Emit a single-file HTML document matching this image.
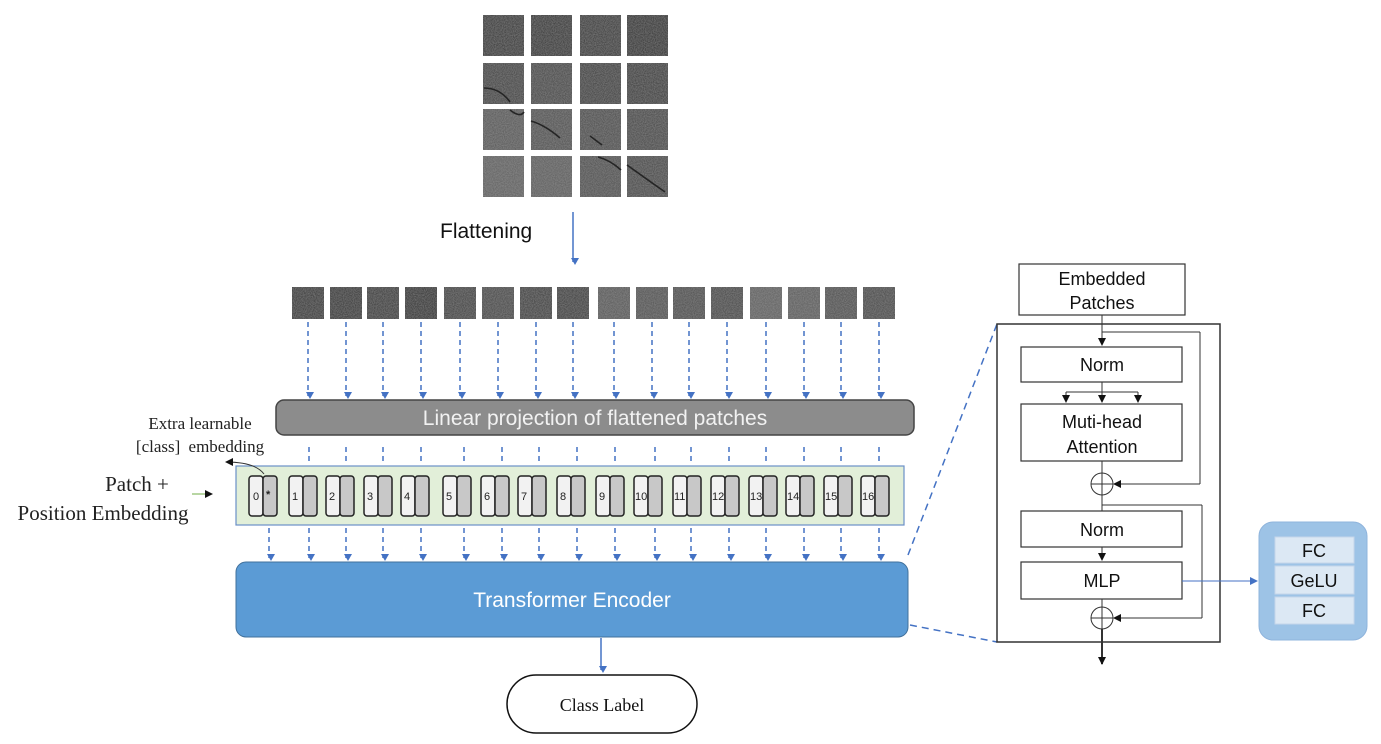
<!DOCTYPE html>
<html><head><meta charset="utf-8"><style>
html,body{margin:0;padding:0;background:#fff;}
svg{display:block;}
.s{font-family:"Liberation Sans",sans-serif;}
.r{font-family:"Liberation Serif",serif;}
</style></head><body>
<svg width="1381" height="744" viewBox="0 0 1381 744" xmlns="http://www.w3.org/2000/svg">
<defs>
<filter id="n" x="0" y="0" width="100%" height="100%">
<feTurbulence type="fractalNoise" baseFrequency="0.9" numOctaves="2" seed="3"/>
<feColorMatrix type="matrix" values="0 0 0 0 1  0 0 0 0 1  0 0 0 0 1  0 0 0 0.2 -0.06"/>
<feComposite in2="SourceGraphic" operator="in"/>
<feBlend in2="SourceGraphic" mode="screen"/>
</filter>
<marker id="ab" markerWidth="8" markerHeight="8" refX="4" refY="6" orient="auto" markerUnits="userSpaceOnUse"><path d="M0,0 L8,0 L4,7 z" fill="#4472c4" transform="rotate(-90 4 4)"/></marker>
<marker id="tri" markerWidth="8" markerHeight="8" refX="7" refY="4" orient="auto" markerUnits="userSpaceOnUse"><path d="M0,0 L8,4 L0,8 z" fill="#4472c4"/></marker>
<marker id="tk" markerWidth="8" markerHeight="8" refX="7" refY="4" orient="auto" markerUnits="userSpaceOnUse"><path d="M0,0 L8,4 L0,8 z" fill="#111"/></marker>
<g id="tok"><rect x="0" y="0" width="14" height="40" rx="3" fill="#f2f2f2" stroke="#222" stroke-width="1.5"/><rect x="14" y="0" width="14" height="40" rx="3" fill="#c8c8c8" stroke="#222" stroke-width="1.5"/></g>
</defs>

<g filter="url(#n)">
<rect x="483" y="15" width="41" height="41" fill="#4a4a4a"/><rect x="531" y="15" width="41" height="41" fill="#484848"/><rect x="580" y="15" width="41" height="41" fill="#4c4c4c"/><rect x="627" y="15" width="41" height="41" fill="#454545"/>
<rect x="483" y="63" width="41" height="41" fill="#525252"/><rect x="531" y="63" width="41" height="41" fill="#565656"/><rect x="580" y="63" width="41" height="41" fill="#505050"/><rect x="627" y="63" width="41" height="41" fill="#4e4e4e"/>
<rect x="483" y="109" width="41" height="41" fill="#646464"/><rect x="531" y="109" width="41" height="41" fill="#5e5e5e"/><rect x="580" y="109" width="41" height="41" fill="#5a5a5a"/><rect x="627" y="109" width="41" height="41" fill="#565656"/>
<rect x="483" y="156" width="41" height="41" fill="#6a6a6a"/><rect x="531" y="156" width="41" height="41" fill="#676767"/><rect x="580" y="156" width="41" height="41" fill="#5c5c5c"/><rect x="627" y="156" width="41" height="41" fill="#575757"/>
</g>
<g stroke="#252525" stroke-width="1.6" fill="none">
<path d="M484,88 Q500,88 510,102"/><path d="M510,110 Q520,118 524,112"/><path d="M531,121 Q545,125 560,138"/><path d="M590,136 L602,145"/><path d="M598,157 Q610,160 621,170"/><path d="M627,165 Q645,178 665,192"/>
</g>

<text x="440" y="238" class="s" font-size="21" fill="#111">Flattening</text>
<line x1="573" y1="212" x2="573" y2="262" stroke="#4472c4" stroke-width="1.5" marker-end="url(#ab)"/>

<g filter="url(#n)">
<rect x="292" y="287" width="32" height="32" fill="#4a4a4a"/><rect x="330" y="287" width="32" height="32" fill="#484848"/><rect x="367" y="287" width="32" height="32" fill="#4c4c4c"/><rect x="405" y="287" width="32" height="32" fill="#454545"/>
<rect x="444" y="287" width="32" height="32" fill="#525252"/><rect x="482" y="287" width="32" height="32" fill="#565656"/><rect x="520" y="287" width="32" height="32" fill="#505050"/><rect x="557" y="287" width="32" height="32" fill="#4e4e4e"/>
<rect x="598" y="287" width="32" height="32" fill="#646464"/><rect x="636" y="287" width="32" height="32" fill="#5e5e5e"/><rect x="673" y="287" width="32" height="32" fill="#5a5a5a"/><rect x="711" y="287" width="32" height="32" fill="#565656"/>
<rect x="750" y="287" width="32" height="32" fill="#6a6a6a"/><rect x="788" y="287" width="32" height="32" fill="#676767"/><rect x="825" y="287" width="32" height="32" fill="#5c5c5c"/><rect x="863" y="287" width="32" height="32" fill="#575757"/>
</g>

<g stroke="#4472c4" stroke-width="1.5" stroke-dasharray="5,4" fill="none" marker-end="url(#ab)">
<line x1="308" y1="322" x2="308" y2="396"/><line x1="346" y1="322" x2="346" y2="396"/><line x1="383" y1="322" x2="383" y2="396"/><line x1="421" y1="322" x2="421" y2="396"/>
<line x1="460" y1="322" x2="460" y2="396"/><line x1="498" y1="322" x2="498" y2="396"/><line x1="536" y1="322" x2="536" y2="396"/><line x1="573" y1="322" x2="573" y2="396"/>
<line x1="614" y1="322" x2="614" y2="396"/><line x1="652" y1="322" x2="652" y2="396"/><line x1="689" y1="322" x2="689" y2="396"/><line x1="727" y1="322" x2="727" y2="396"/>
<line x1="766" y1="322" x2="766" y2="396"/><line x1="804" y1="322" x2="804" y2="396"/><line x1="841" y1="322" x2="841" y2="396"/><line x1="879" y1="322" x2="879" y2="396"/>
</g>

<rect x="276" y="400" width="638" height="35" rx="8" fill="#8c8c8c" stroke="#444" stroke-width="1.5"/>
<text x="595" y="425" class="s" font-size="21" fill="#f2f2f2" text-anchor="middle">Linear projection of flattened patches</text>

<g stroke="#4472c4" stroke-width="1.5" stroke-dasharray="5,4">
<line x1="309" y1="447" x2="309" y2="465"/><line x1="346" y1="447" x2="346" y2="465"/><line x1="383" y1="447" x2="383" y2="465"/><line x1="421" y1="447" x2="421" y2="465"/>
<line x1="464" y1="447" x2="464" y2="465"/><line x1="502" y1="447" x2="502" y2="465"/><line x1="539" y1="447" x2="539" y2="465"/><line x1="577" y1="447" x2="577" y2="465"/>
<line x1="615" y1="447" x2="615" y2="465"/><line x1="655" y1="447" x2="655" y2="465"/><line x1="691" y1="447" x2="691" y2="465"/><line x1="729" y1="447" x2="729" y2="465"/>
<line x1="766" y1="447" x2="766" y2="465"/><line x1="804" y1="447" x2="804" y2="465"/><line x1="841" y1="447" x2="841" y2="465"/><line x1="879" y1="447" x2="879" y2="465"/>
</g>

<rect x="236" y="466" width="668" height="59" fill="#e2efd9" stroke="#6a8fc8" stroke-width="1.2"/>
<use href="#tok" x="249" y="476"/><use href="#tok" x="289" y="476"/><use href="#tok" x="326" y="476"/><use href="#tok" x="364" y="476"/>
<use href="#tok" x="401" y="476"/><use href="#tok" x="443" y="476"/><use href="#tok" x="481" y="476"/><use href="#tok" x="518" y="476"/>
<use href="#tok" x="557" y="476"/><use href="#tok" x="596" y="476"/><use href="#tok" x="634" y="476"/><use href="#tok" x="673" y="476"/>
<use href="#tok" x="711" y="476"/><use href="#tok" x="749" y="476"/><use href="#tok" x="786" y="476"/><use href="#tok" x="824" y="476"/><use href="#tok" x="861" y="476"/>
<g class="s" font-size="11" fill="#222">
<text x="253" y="500">0</text><text x="266" y="498" font-weight="bold">*</text>
<text x="292" y="500">1</text><text x="329" y="500">2</text><text x="367" y="500">3</text><text x="404" y="500">4</text>
<text x="446" y="500">5</text><text x="484" y="500">6</text><text x="521" y="500">7</text><text x="560" y="500">8</text>
<text x="599" y="500">9</text><text x="635" y="500">10</text><text x="674" y="500">11</text><text x="712" y="500">12</text>
<text x="750" y="500">13</text><text x="787" y="500">14</text><text x="825" y="500">15</text><text x="862" y="500">16</text>
</g>

<g stroke="#4472c4" stroke-width="1.5" stroke-dasharray="5,4" fill="none" marker-end="url(#ab)">
<line x1="269" y1="528" x2="269" y2="558"/><line x1="309" y1="528" x2="309" y2="558"/><line x1="346" y1="528" x2="346" y2="558"/><line x1="383" y1="528" x2="383" y2="558"/><line x1="421" y1="528" x2="421" y2="558"/>
<line x1="464" y1="528" x2="464" y2="558"/><line x1="502" y1="528" x2="502" y2="558"/><line x1="539" y1="528" x2="539" y2="558"/><line x1="577" y1="528" x2="577" y2="558"/>
<line x1="615" y1="528" x2="615" y2="558"/><line x1="655" y1="528" x2="655" y2="558"/><line x1="691" y1="528" x2="691" y2="558"/><line x1="729" y1="528" x2="729" y2="558"/>
<line x1="766" y1="528" x2="766" y2="558"/><line x1="804" y1="528" x2="804" y2="558"/><line x1="841" y1="528" x2="841" y2="558"/><line x1="879" y1="528" x2="879" y2="558"/>
</g>

<rect x="236" y="562" width="672" height="75" rx="10" fill="#5b9bd5" stroke="#41719c" stroke-width="1"/>
<text x="572" y="607" class="s" font-size="21" fill="#fff" text-anchor="middle">Transformer Encoder</text>
<line x1="601" y1="638" x2="601" y2="670" stroke="#4472c4" stroke-width="1.5" marker-end="url(#ab)"/>
<rect x="507" y="675" width="190" height="58" rx="29" fill="#fff" stroke="#111" stroke-width="1.5"/>
<text x="602" y="711" class="r" font-size="18" fill="#111" text-anchor="middle">Class Label</text>

<text x="200" y="429" class="r" font-size="17" fill="#222" text-anchor="middle">Extra learnable</text>
<text x="200" y="452" class="r" font-size="17" fill="#222" text-anchor="middle" word-spacing="4">[class] embedding</text>
<path d="M264,474 Q255,462 226,462" stroke="#333" stroke-width="1" fill="none" marker-end="url(#tk)"/>
<text x="137" y="491" class="r" font-size="21" fill="#222" text-anchor="middle">Patch +</text>
<text x="103" y="520" class="r" font-size="21" fill="#222" text-anchor="middle">Position Embedding</text>
<line x1="192" y1="494" x2="212" y2="494" stroke="#70ad47" stroke-width="1" marker-end="url(#tk)"/>

<g stroke="#4472c4" stroke-width="1.5" stroke-dasharray="7,5">
<line x1="908" y1="555" x2="997" y2="324"/><line x1="910" y1="625" x2="997" y2="642"/>
</g>

<g class="s" fill="#111" font-size="18" text-anchor="middle">
<rect x="1019" y="264" width="166" height="51" fill="#fff" stroke="#333" stroke-width="1.2"/>
<text x="1102" y="285">Embedded</text><text x="1102" y="309">Patches</text>
<rect x="997" y="324" width="223" height="318" fill="none" stroke="#333" stroke-width="1.5"/>
<rect x="1021" y="347" width="161" height="35" fill="#fff" stroke="#333" stroke-width="1.2"/>
<text x="1102" y="371">Norm</text>
<rect x="1021" y="404" width="161" height="57" fill="#fff" stroke="#333" stroke-width="1.2"/>
<text x="1102" y="428">Muti-head</text><text x="1102" y="453">Attention</text>
<rect x="1021" y="511" width="161" height="36" fill="#fff" stroke="#333" stroke-width="1.2"/>
<text x="1102" y="536">Norm</text>
<rect x="1021" y="562" width="161" height="37" fill="#fff" stroke="#333" stroke-width="1.2"/>
<text x="1102" y="587">MLP</text>
</g>
<g stroke="#333" stroke-width="1" fill="none">
<line x1="1102" y1="315" x2="1102" y2="345" marker-end="url(#tk)"/>
<line x1="1102" y1="332" x2="1200" y2="332"/><line x1="1200" y1="332" x2="1200" y2="484"/><line x1="1200" y1="484" x2="1114" y2="484" marker-end="url(#tk)"/>
<line x1="1102" y1="382" x2="1102" y2="402" marker-end="url(#tk)"/>
<line x1="1066" y1="392" x2="1138" y2="392"/>
<line x1="1066" y1="392" x2="1066" y2="402" marker-end="url(#tk)"/><line x1="1138" y1="392" x2="1138" y2="402" marker-end="url(#tk)"/>
<line x1="1102" y1="461" x2="1102" y2="473"/>
<circle cx="1102" cy="484" r="11"/><line x1="1091" y1="484" x2="1113" y2="484"/><line x1="1102" y1="473" x2="1102" y2="495"/>
<line x1="1102" y1="495" x2="1102" y2="511"/>
<line x1="1102" y1="505" x2="1202" y2="505"/><line x1="1202" y1="505" x2="1202" y2="618"/><line x1="1202" y1="618" x2="1114" y2="618" marker-end="url(#tk)"/>
<line x1="1102" y1="547" x2="1102" y2="560" marker-end="url(#tk)"/>
<line x1="1102" y1="599" x2="1102" y2="607"/>
<circle cx="1102" cy="618" r="11"/><line x1="1091" y1="618" x2="1113" y2="618"/><line x1="1102" y1="607" x2="1102" y2="629"/>
<line x1="1102" y1="629" x2="1102" y2="664" stroke-width="2" marker-end="url(#tk)"/>
</g>
<line x1="1182" y1="581" x2="1257" y2="581" stroke="#4472c4" stroke-width="1" marker-end="url(#tri)"/>
<rect x="1259" y="522" width="108" height="118" rx="14" fill="#9dc3e6" stroke="#8fb4dc"/>
<g class="s" font-size="18" fill="#111" text-anchor="middle">
<rect x="1275" y="537" width="79" height="26" fill="#dce8f4" stroke="#c5d6ea"/><text x="1314" y="557">FC</text>
<rect x="1275" y="566" width="79" height="28" fill="#dce8f4" stroke="#c5d6ea"/><text x="1314" y="587">GeLU</text>
<rect x="1275" y="597" width="79" height="27" fill="#dce8f4" stroke="#c5d6ea"/><text x="1314" y="617">FC</text>
</g>
</svg>
</body></html>
